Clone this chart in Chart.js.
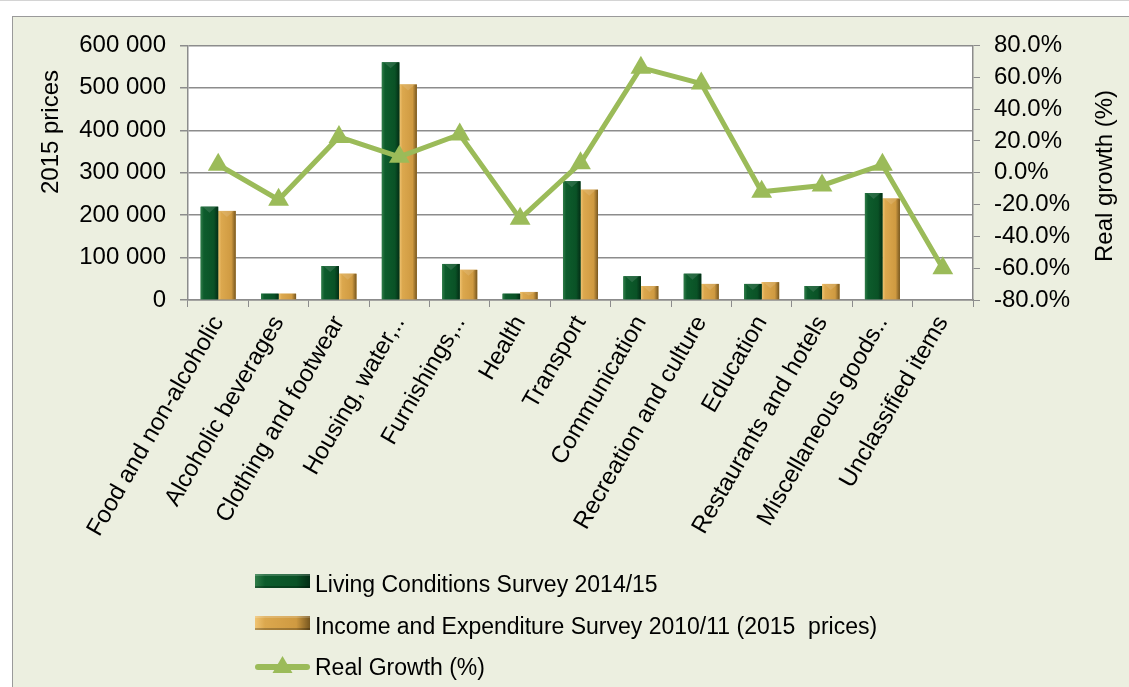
<!DOCTYPE html>
<html>
<head>
<meta charset="utf-8">
<script src="https://cdn.jsdelivr.net/npm/chart.js@4.4.1/dist/chart.umd.min.js"></script>
<style>
  html, body { margin: 0; padding: 0; background: #ffffff; }
  body { width: 1129px; height: 687px; position: relative; overflow: hidden; border-top: 1px solid #d4d4d4; box-sizing: border-box; }
  #painel {
    position: absolute; left: 12px; top: 15px; width: 1117px; height: 672px;
    background: #ecefe0; border-left: 1px solid #9a9a9a; border-top: 1px solid #9a9a9a;
    box-sizing: border-box;
  }
  #grafico { position: absolute; left: 0; top: 0; width: 1116px; height: 671px; }
</style>
</head>
<body>
<div id="painel">
  <div id="grafico"><canvas id="despesas"></canvas></div>
</div>
<script>
// --- Dados do gráfico ---
const categorias = [
    'Food and non-alcoholic', 'Alcoholic beverages', 'Clothing and footwear',
    'Housing, water,..', 'Furnishings,..', 'Health', 'Transport', 'Communication',
    'Recreation and culture', 'Education', 'Restaurants and hotels',
    'Miscellaneous goods..', 'Unclassified items'
];
const lcs2014 = [220000, 15000, 80000, 560000, 85000, 15000, 280000, 56000, 62000, 38000, 33000, 252000, null];
const ies2010 = [210000, 15000, 62000, 508000, 71000, 19000, 260000, 33000, 38000, 42000, 38000, 239000, null];
const crescimentoReal = [5, -17, 22.5, 10, 24, -29, 6, 66, 56, -12, -8, 5, -60];

const rotulosEsquerda = [0, 100000, 200000, 300000, 400000, 500000, 600000];
const rotulosDireita = [-80, -60, -40, -20, 0, 20, 40, 60, 80];

// --- Cores ---
const VERDE_ESCURO = '#0b5a2a';
const DOURADO = '#d6a449';
const VERDE_LINHA = '#9bbb59';
const CINZA_EIXO = '#8c8c8c';

// paradas do degradê "bisel" de cada série de barras
const BISEL = {
    [VERDE_ESCURO]: [[0, '#2f7c48'], [0.18, '#0d5c2c'], [0.75, '#0a5226'], [1, '#032d15']],
    [DOURADO]: [[0, '#f0c473'], [0.18, '#dca84e'], [0.75, '#cf9a41'], [1, '#76561f']]
};

const FONTE = "'Liberation Sans', Arial, sans-serif";

const formatarMilhar = v => String(v).replace(/\B(?=(\d{3})+(?!\d))/g, ' ');

function degradeBisel(ctx, cor, x0, x1) {
    const g = ctx.createLinearGradient(x0, 0, x1, 0);
    BISEL[cor].forEach(([p, c]) => g.addColorStop(p, c));
    return g;
}

// Sombreado tipo bisel nas barras (usa as posições calculadas pelo Chart.js)
const pluginBisel = {
    id: 'bisel',
    afterDatasetDraw(chart, args) {
        const ds = chart.data.datasets[args.index];
        if (ds.type !== 'bar') return;
        const { ctx } = chart;
        ctx.save();
        args.meta.data.forEach(el => {
            if (el.skip || el.y == null || isNaN(el.y)) return;
            const x0 = el.x - el.width / 2, x1 = el.x + el.width / 2;
            const topo = Math.min(el.y, el.base), base = Math.max(el.y, el.base);
            ctx.fillStyle = degradeBisel(ctx, ds.backgroundColor, x0, x1);
            ctx.fillRect(x0, topo, x1 - x0, base - topo);
            // pequeno chanfro no topo
            if (base - topo > 6) {
                ctx.fillStyle = 'rgba(255,255,255,0.12)';
                ctx.beginPath();
                ctx.moveTo(x0 + 2, topo);
                ctx.lineTo(x1 - 2, topo);
                ctx.lineTo(el.x, topo + Math.min(6, (base - topo) / 2));
                ctx.closePath();
                ctx.fill();
            }
        });
        ctx.restore();
    }
};

// Fundo branco da área de plotagem, títulos dos eixos e legenda vertical
const pluginDecoracao = {
    id: 'decoracao',
    beforeDraw(chart) {
        const { ctx, chartArea } = chart;
        ctx.save();
        ctx.fillStyle = '#ffffff';
        ctx.fillRect(chartArea.left, chartArea.top, chartArea.right - chartArea.left, chartArea.bottom - chartArea.top);
        ctx.restore();
    },
    afterDraw(chart) {
        const { ctx } = chart;
        ctx.save();
        ctx.fillStyle = '#000000';
        ctx.font = `24px ${FONTE}`;
        ctx.textAlign = 'center';
        ctx.textBaseline = 'middle';

        // título eixo esquerdo
        ctx.save();
        ctx.translate(38, 115);
        ctx.rotate(-Math.PI / 2);
        ctx.fillText('2015 prices', 0, 0);
        ctx.restore();

        // título eixo direito
        ctx.save();
        ctx.translate(1092, 159);
        ctx.rotate(-Math.PI / 2);
        ctx.fillText('Real growth (%)', 0, 0);
        ctx.restore();

        // legenda
        const linhasTexto = [569, 611, 652];
        const linhasCaixa = [564, 606, 650];
        const xCaixa = 242, larguraCaixa = 55, xTexto = 302;
        chart.data.datasets.forEach((ds, i) => {
            const y = linhasCaixa[i];
            if (ds.type === 'line') {
                ctx.strokeStyle = ds.borderColor;
                ctx.lineWidth = 6;
                ctx.lineCap = 'round';
                ctx.beginPath();
                ctx.moveTo(xCaixa + 3, y);
                ctx.lineTo(xCaixa + larguraCaixa - 3, y);
                ctx.stroke();
                ctx.fillStyle = ds.borderColor;
                ctx.beginPath();
                ctx.moveTo(xCaixa + larguraCaixa / 2, y - 11);
                ctx.lineTo(xCaixa + larguraCaixa / 2 + 10, y + 6);
                ctx.lineTo(xCaixa + larguraCaixa / 2 - 10, y + 6);
                ctx.closePath();
                ctx.fill();
            } else {
                ctx.fillStyle = degradeBisel(ctx, ds.backgroundColor, xCaixa, xCaixa + larguraCaixa);
                ctx.fillRect(xCaixa, y - 7, larguraCaixa, 14);
                ctx.fillStyle = 'rgba(255,255,255,0.18)';
                ctx.fillRect(xCaixa, y - 7, larguraCaixa, 2);
                ctx.fillStyle = 'rgba(0,0,0,0.25)';
                ctx.fillRect(xCaixa, y + 5, larguraCaixa, 2);
            }
            ctx.fillStyle = '#000000';
            ctx.font = `23px ${FONTE}`;
            ctx.textAlign = 'left';
            ctx.fillText(ds.label, xTexto, linhasTexto[i]);
        });
        ctx.restore();
    }
};

function renderizarGrafico() {
    const ctx = document.getElementById('despesas').getContext('2d');
    new Chart(ctx, {
        data: {
            labels: categorias,
            datasets: [
                {
                    type: 'bar',
                    label: 'Living Conditions Survey 2014/15',
                    data: lcs2014,
                    backgroundColor: VERDE_ESCURO,
                    borderWidth: 0,
                    yAxisID: 'y',
                    order: 1,
                    categoryPercentage: 0.58,
                    barPercentage: 1.0
                },
                {
                    type: 'bar',
                    label: 'Income and Expenditure Survey 2010/11 (2015  prices)',
                    data: ies2010,
                    backgroundColor: DOURADO,
                    borderWidth: 0,
                    yAxisID: 'y',
                    order: 1,
                    categoryPercentage: 0.58,
                    barPercentage: 1.0
                },
                {
                    type: 'line',
                    label: 'Real Growth (%)',
                    data: crescimentoReal,
                    borderColor: VERDE_LINHA,
                    backgroundColor: VERDE_LINHA,
                    borderWidth: 5,
                    pointStyle: 'triangle',
                    pointRadius: 12,
                    pointBorderWidth: 0,
                    tension: 0,
                    yAxisID: 'y1',
                    order: 0
                }
            ]
        },
        options: {
            responsive: true,
            maintainAspectRatio: false,
            animation: false,
            layout: { padding: { top: 28, left: 0, right: 0, bottom: 0 } },
            plugins: {
                legend: { display: false },
                tooltip: { enabled: false }
            },
            scales: {
                x: {
                    afterFit: s => { s.height = 388; },
                    grid: { display: true, drawOnChartArea: false, drawTicks: true, tickLength: 7, color: CINZA_EIXO },
                    border: { display: true, color: CINZA_EIXO, width: 1.5 },
                    ticks: {
                        autoSkip: false, maxRotation: 60, minRotation: 60, padding: 4,
                        color: '#000000', font: { size: 24, family: FONTE }
                    }
                },
                y: {
                    position: 'left',
                    min: 0, max: 600000,
                    afterFit: s => { s.width = 175; },
                    afterBuildTicks: s => { s.ticks = rotulosEsquerda.map(v => ({ value: v })); },
                    grid: { color: CINZA_EIXO, lineWidth: 1.5, tickLength: 8 },
                    border: { display: true, color: CINZA_EIXO, width: 1.5 },
                    ticks: {
                        padding: 14, color: '#000000', font: { size: 24, family: FONTE },
                        callback: v => formatarMilhar(v)
                    }
                },
                y1: {
                    position: 'right',
                    min: -80, max: 80,
                    afterFit: s => { s.width = 156; },
                    afterBuildTicks: s => { s.ticks = rotulosDireita.map(v => ({ value: v })); },
                    grid: { drawOnChartArea: false, color: CINZA_EIXO, tickLength: 7 },
                    border: { display: true, color: CINZA_EIXO, width: 1.5 },
                    ticks: {
                        padding: 14, color: '#000000', font: { size: 24, family: FONTE },
                        callback: v => v.toFixed(1) + '%'
                    }
                }
            }
        },
        plugins: [pluginBisel, pluginDecoracao]
    });
}

document.addEventListener('DOMContentLoaded', renderizarGrafico);
</script>
</body>
</html>
